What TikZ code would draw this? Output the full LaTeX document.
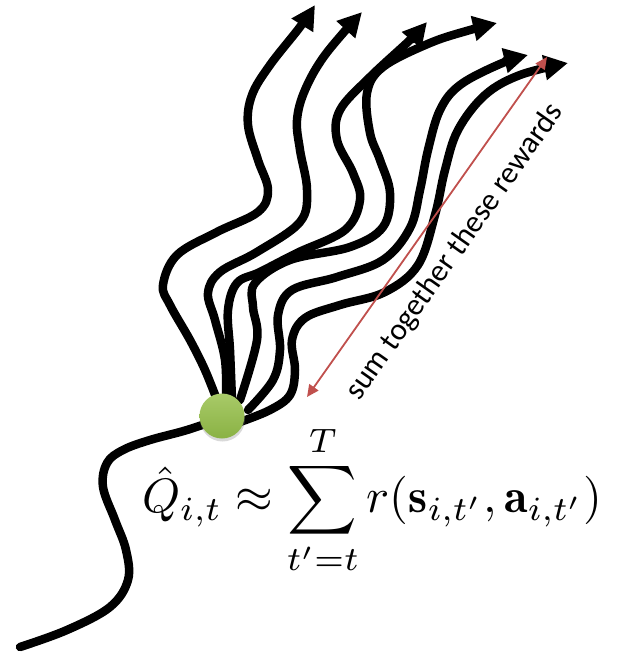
\documentclass[tikz,border=0pt]{standalone}
\usepackage{fontspec}
\newfontfamily\labelfont{Carlito}
\usepackage{amsmath}
\usetikzlibrary{arrows.meta,shadows}
\definecolor{trajred}{RGB}{192,80,77}
\definecolor{dotlight}{RGB}{168,202,104}
\definecolor{dotdark}{RGB}{138,178,68}
\tikzset{
  traj/.style={line width=8.5pt, line cap=round, line join=round, black},
  trajarrow/.style={traj, -{Triangle[length=24pt,width=24pt]}},
  sumarrow/.style={trajred, line width=1.8pt, {Triangle[length=12pt,width=11pt]}-{Triangle[length=12pt,width=11pt]}},
  statedot/.style={circle, minimum size=45pt, inner sep=0pt, shade, top color=dotlight, bottom color=dotdark,
     drop shadow={shadow xshift=0.5pt, shadow yshift=-3pt, opacity=0.3}},
}
\begin{document}
\begin{tikzpicture}[x=1pt,y=-1pt]
\useasboundingbox (0,0) rectangle (623,655);
% incoming trajectory
\draw[traj] plot[smooth, tension=0.6] coordinates {(20,647) (67,630) (110,607) (128,580) (126,550) (115,520) (103,487) (107,463) (123,450) (150,440) (187,430) (222,418)};
% sampled trajectories
\draw[trajarrow] plot[smooth, tension=0.6] coordinates {(217,400) (205,370) (190,340) (170,305) (163,285) (177,255) (217,232) (258,212) (268,190) (258,160) (248,125) (252,95) (270,65) (300,27) (315,5)};
\draw[trajarrow] plot[smooth, tension=0.6] coordinates {(226,400) (225,360) (215,320) (208,293) (220,272) (257,252) (300,222) (307,190) (300,150) (297,120) (305,90) (325,55) (362,12)};
\draw[trajarrow] plot[smooth, tension=0.6] coordinates {(232,400) (230,350) (228,310) (237,283) (260,272) (297,253) (345,230) (360,200) (353,173) (337,140) (340,110) (370,77) (410,40) (427,22)};
\draw[trajarrow] plot[smooth, tension=0.6] coordinates {(240,400) (257,340) (253,307) (255,283) (290,260) (350,247) (383,227) (390,193) (380,160) (370,133) (367,93) (383,67) (430,43) (470,30) (497,23)};
\draw[trajarrow] plot[smooth, tension=0.6] coordinates {(248,410) (273,380) (280,350) (278,315) (292,290) (337,277) (383,260) (410,228) (420,190) (428,150) (440,110) (460,85) (500,64) (528,55)};
\draw[trajarrow] plot[smooth, tension=0.6] coordinates {(240,422) (270,410) (290,395) (295,370) (292,340) (305,318) (340,305) (385,292) (418,265) (435,215) (445,170) (458,130) (485,95) (520,75) (568,63)};
% state dot
\node[statedot] (s) at (222,416) {};
% reward sum arrow
\coordinate (rlow) at (307,397);
\coordinate (rhigh) at (547,57);
\draw[sumarrow] (rlow) -- (rhigh);
\node[rotate=54.8, inner sep=0pt] (lbl) at (455,252) {\labelfont\fontsize{31}{36}\selectfont sum together these rewards};
% formula
\node[inner sep=0pt] (eq) at (372,500) {\resizebox{460pt}{!}{$\displaystyle \hat{Q}_{i,t} \approx \sum_{t'=t}^{T} r(\mathbf{s}_{i,t'},\mathbf{a}_{i,t'})$}};
\end{tikzpicture}
\end{document}
